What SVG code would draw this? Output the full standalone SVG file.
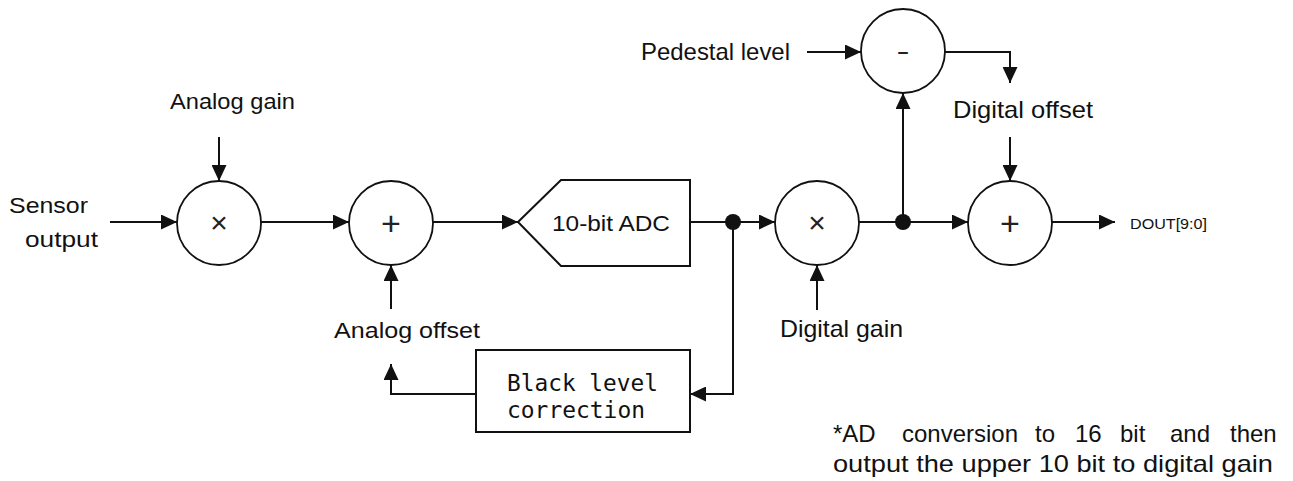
<svg xmlns="http://www.w3.org/2000/svg" width="1293" height="481" viewBox="0 0 1293 481">
<style>
.lbl{font-family:"Liberation Sans",Arial,sans-serif;font-size:22px;fill:#111}
.big{font-family:"Liberation Sans",Arial,sans-serif;font-size:24px;fill:#111}
.mono{font-family:"DejaVu Sans Mono","Liberation Mono",monospace;font-size:23px;fill:#111}
.sym{font-family:"Liberation Sans",Arial,sans-serif;fill:#222;text-anchor:middle}
.op{fill:#fff;stroke:#111;stroke-width:1.8}
.blk{fill:#fff;stroke:#111;stroke-width:2}
.wire{fill:none;stroke:#111;stroke-width:2}
.arr{marker-end:url(#ah)}
</style>
<defs>
<marker id="ah" markerUnits="userSpaceOnUse" markerWidth="16" markerHeight="15" refX="16" refY="7.5" orient="auto">
<path d="M0,0 L16,7.5 L0,15 z" fill="#111"/>
</marker>
</defs>
<rect width="1293" height="481" fill="#fff"/>
<g id="connectors">
<line class="wire arr" x1="219" y1="137" x2="219" y2="181"/>
<line class="wire arr" x1="110" y1="222" x2="177" y2="222"/>
<line class="wire arr" x1="261" y1="222" x2="349" y2="222"/>
<line class="wire arr" x1="433" y1="222" x2="518" y2="222"/>
<line class="wire arr" x1="690" y1="222" x2="775" y2="222"/>
<polyline class="wire arr" points="733,222 733,394 690,394"/>
<polyline class="wire arr" points="476,394 391,394 391,364"/>
<line class="wire arr" x1="391" y1="309" x2="391" y2="265"/>
<line class="wire arr" x1="817" y1="310" x2="817" y2="265"/>
<line class="wire arr" x1="859" y1="222" x2="968" y2="222"/>
<line class="wire arr" x1="903" y1="222" x2="903" y2="93"/>
<line class="wire arr" x1="807" y1="52" x2="861" y2="52"/>
<polyline class="wire arr" points="945,52 1010,52 1010,83"/>
<line class="wire arr" x1="1010" y1="137" x2="1010" y2="181"/>
<line class="wire arr" x1="1052" y1="222" x2="1115" y2="222"/>
<circle cx="733" cy="222" r="8" fill="#111"/>
<circle cx="903" cy="222" r="8" fill="#111"/>
</g>
<g id="label-analog-gain"><text class="lbl" x="170" y="109" textLength="125" lengthAdjust="spacingAndGlyphs">Analog gain</text></g>
<g id="label-sensor-output">
<text class="lbl" x="9" y="213" textLength="79" lengthAdjust="spacingAndGlyphs">Sensor</text>
<text class="lbl" x="25" y="247" textLength="73" lengthAdjust="spacingAndGlyphs">output</text>
</g>
<g id="mul-analog"><circle class="op" cx="219" cy="223" r="42"/><text class="sym" x="219" y="233" font-size="30">×</text></g>
<g id="add-analog"><circle class="op" cx="391" cy="223" r="42"/><text class="sym" x="391" y="235" font-size="34">+</text></g>
<g id="adc">
<polygon class="blk" points="518,222 561,180 690,180 690,266 561,266"/>
<text class="lbl" x="552" y="231" textLength="118" lengthAdjust="spacingAndGlyphs">10-bit ADC</text>
</g>
<g id="label-analog-offset"><text class="lbl" x="334" y="338" textLength="146" lengthAdjust="spacingAndGlyphs">Analog offset</text></g>
<g id="black-level">
<rect class="blk" x="476" y="350" width="214" height="82"/>
<text class="mono" x="507" y="391" textLength="151" lengthAdjust="spacingAndGlyphs">Black level</text>
<text class="mono" x="507" y="418" textLength="138" lengthAdjust="spacingAndGlyphs">correction</text>
</g>
<g id="mul-digital"><circle class="op" cx="817" cy="223" r="42"/><text class="sym" x="817" y="233" font-size="30">×</text></g>
<g id="label-digital-gain"><text class="big" x="780" y="337" textLength="123" lengthAdjust="spacingAndGlyphs">Digital gain</text></g>
<g id="sub-pedestal"><circle class="op" cx="903" cy="51" r="42"/><text class="sym" x="903" y="59" font-size="24" textLength="13" lengthAdjust="spacingAndGlyphs">-</text></g>
<g id="label-pedestal"><text class="big" x="641" y="60" textLength="149" lengthAdjust="spacingAndGlyphs">Pedestal level</text></g>
<g id="label-digital-offset"><text class="big" x="953" y="118" textLength="140" lengthAdjust="spacingAndGlyphs">Digital offset</text></g>
<g id="add-digital"><circle class="op" cx="1010" cy="223" r="42"/><text class="sym" x="1010" y="235" font-size="34">+</text></g>
<g id="label-dout"><text x="1130" y="229" font-family="Liberation Sans,Arial,sans-serif" font-size="15" fill="#111" textLength="77" lengthAdjust="spacingAndGlyphs">DOUT[9:0]</text></g>
<g id="footnote" font-family="Liberation Sans,Arial,sans-serif" font-size="24" fill="#111">
<text y="442"><tspan x="833">*AD</tspan><tspan x="902">conversion</tspan><tspan x="1035">to</tspan><tspan x="1075">16</tspan><tspan x="1120">bit</tspan><tspan x="1170">and</tspan><tspan x="1230">then</tspan></text>
<text x="833" y="472" textLength="440" lengthAdjust="spacingAndGlyphs">output the upper 10 bit to digital gain</text>
</g>
</svg>
